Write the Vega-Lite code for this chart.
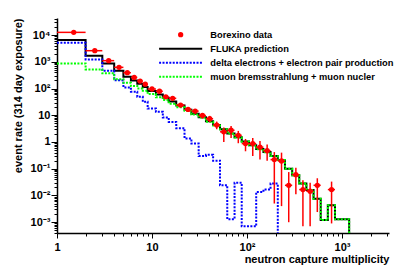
{
  "$schema": "https://vega.github.io/schema/vega-lite/v6.json",
  "width": 332,
  "height": 215,
  "autosize": {"type": "none"},
  "padding": {"left": 57, "top": 18, "right": 28, "bottom": 33},
  "background": "white",
  "config": {"view": {"stroke": null}, "font": "Liberation Sans"},
  "datasets": {
    "hist": [
      {"s": "FLUKA prediction", "x": 1, "y": 6500}, {"s": "FLUKA prediction", "x": 2, "y": 1680}, {"s": "FLUKA prediction", "x": 3, "y": 870}, {"s": "FLUKA prediction", "x": 4, "y": 460}, {"s": "FLUKA prediction", "x": 5, "y": 275}, {"s": "FLUKA prediction", "x": 6, "y": 200}, {"s": "FLUKA prediction", "x": 7, "y": 150}, {"s": "FLUKA prediction", "x": 8, "y": 115}, {"s": "FLUKA prediction", "x": 9, "y": 80}, {"s": "FLUKA prediction", "x": 11, "y": 60}, {"s": "FLUKA prediction", "x": 13, "y": 45}, {"s": "FLUKA prediction", "x": 15, "y": 33}, {"s": "FLUKA prediction", "x": 18, "y": 23}, {"s": "FLUKA prediction", "x": 22, "y": 16}, {"s": "FLUKA prediction", "x": 26, "y": 11.5}, {"s": "FLUKA prediction", "x": 31, "y": 8.5}, {"s": "FLUKA prediction", "x": 37, "y": 6}, {"s": "FLUKA prediction", "x": 44, "y": 4.3}, {"s": "FLUKA prediction", "x": 52, "y": 3.0}, {"s": "FLUKA prediction", "x": 62, "y": 2.1}, {"s": "FLUKA prediction", "x": 74, "y": 1.5}, {"s": "FLUKA prediction", "x": 88, "y": 1.05}, {"s": "FLUKA prediction", "x": 105, "y": 0.76}, {"s": "FLUKA prediction", "x": 125, "y": 0.55}, {"s": "FLUKA prediction", "x": 149, "y": 0.42}, {"s": "FLUKA prediction", "x": 177, "y": 0.30}, {"s": "FLUKA prediction", "x": 211, "y": 0.21}, {"s": "FLUKA prediction", "x": 251, "y": 0.10}, {"s": "FLUKA prediction", "x": 299, "y": 0.057}, {"s": "FLUKA prediction", "x": 355, "y": 0.028}, {"s": "FLUKA prediction", "x": 422, "y": 0.016}, {"s": "FLUKA prediction", "x": 502, "y": 0.0076}, {"s": "FLUKA prediction", "x": 597, "y": 0.0012}, {"s": "FLUKA prediction", "x": 710, "y": 0.0043}, {"s": "FLUKA prediction", "x": 844, "y": 0.0013}, {"s": "FLUKA prediction", "x": 1003, "y": 0.0013}, {"s": "FLUKA prediction", "x": 1190, "y": 0.0001},
      {"s": "delta electrons + electron pair production", "x": 1, "y": 5200}, {"s": "delta electrons + electron pair production", "x": 2, "y": 1230}, {"s": "delta electrons + electron pair production", "x": 3, "y": 460}, {"s": "delta electrons + electron pair production", "x": 4, "y": 205}, {"s": "delta electrons + electron pair production", "x": 5, "y": 110}, {"s": "delta electrons + electron pair production", "x": 6, "y": 76}, {"s": "delta electrons + electron pair production", "x": 7, "y": 49}, {"s": "delta electrons + electron pair production", "x": 8, "y": 32}, {"s": "delta electrons + electron pair production", "x": 9, "y": 18}, {"s": "delta electrons + electron pair production", "x": 11, "y": 13.4}, {"s": "delta electrons + electron pair production", "x": 13, "y": 8.3}, {"s": "delta electrons + electron pair production", "x": 15, "y": 5.6}, {"s": "delta electrons + electron pair production", "x": 18, "y": 3.3}, {"s": "delta electrons + electron pair production", "x": 22, "y": 1.35}, {"s": "delta electrons + electron pair production", "x": 26, "y": 0.87}, {"s": "delta electrons + electron pair production", "x": 31, "y": 0.3}, {"s": "delta electrons + electron pair production", "x": 37, "y": 0.33}, {"s": "delta electrons + electron pair production", "x": 44, "y": 0.2}, {"s": "delta electrons + electron pair production", "x": 52, "y": 0.024}, {"s": "delta electrons + electron pair production", "x": 62, "y": 0.0013}, {"s": "delta electrons + electron pair production", "x": 74, "y": 0.03}, {"s": "delta electrons + electron pair production", "x": 88, "y": 0.0007}, {"s": "delta electrons + electron pair production", "x": 105, "y": 0.0007}, {"s": "delta electrons + electron pair production", "x": 125, "y": 0.0135}, {"s": "delta electrons + electron pair production", "x": 149, "y": 0.0166}, {"s": "delta electrons + electron pair production", "x": 177, "y": 0.028}, {"s": "delta electrons + electron pair production", "x": 211, "y": 0.0001},
      {"s": "muon bremsstrahlung + muon nucler", "x": 1, "y": 870}, {"s": "muon bremsstrahlung + muon nucler", "x": 2, "y": 520}, {"s": "muon bremsstrahlung + muon nucler", "x": 3, "y": 370}, {"s": "muon bremsstrahlung + muon nucler", "x": 4, "y": 220}, {"s": "muon bremsstrahlung + muon nucler", "x": 5, "y": 163}, {"s": "muon bremsstrahlung + muon nucler", "x": 6, "y": 124}, {"s": "muon bremsstrahlung + muon nucler", "x": 7, "y": 101}, {"s": "muon bremsstrahlung + muon nucler", "x": 8, "y": 83}, {"s": "muon bremsstrahlung + muon nucler", "x": 9, "y": 62}, {"s": "muon bremsstrahlung + muon nucler", "x": 11, "y": 47}, {"s": "muon bremsstrahlung + muon nucler", "x": 13, "y": 37}, {"s": "muon bremsstrahlung + muon nucler", "x": 15, "y": 27}, {"s": "muon bremsstrahlung + muon nucler", "x": 18, "y": 20}, {"s": "muon bremsstrahlung + muon nucler", "x": 22, "y": 14.6}, {"s": "muon bremsstrahlung + muon nucler", "x": 26, "y": 10.6}, {"s": "muon bremsstrahlung + muon nucler", "x": 31, "y": 8.2}, {"s": "muon bremsstrahlung + muon nucler", "x": 37, "y": 5.7}, {"s": "muon bremsstrahlung + muon nucler", "x": 44, "y": 4.1}, {"s": "muon bremsstrahlung + muon nucler", "x": 52, "y": 3.0}, {"s": "muon bremsstrahlung + muon nucler", "x": 62, "y": 2.1}, {"s": "muon bremsstrahlung + muon nucler", "x": 74, "y": 1.47}, {"s": "muon bremsstrahlung + muon nucler", "x": 88, "y": 1.05}, {"s": "muon bremsstrahlung + muon nucler", "x": 105, "y": 0.76}, {"s": "muon bremsstrahlung + muon nucler", "x": 125, "y": 0.54}, {"s": "muon bremsstrahlung + muon nucler", "x": 149, "y": 0.41}, {"s": "muon bremsstrahlung + muon nucler", "x": 177, "y": 0.30}, {"s": "muon bremsstrahlung + muon nucler", "x": 211, "y": 0.21}, {"s": "muon bremsstrahlung + muon nucler", "x": 251, "y": 0.10}, {"s": "muon bremsstrahlung + muon nucler", "x": 299, "y": 0.057}, {"s": "muon bremsstrahlung + muon nucler", "x": 355, "y": 0.028}, {"s": "muon bremsstrahlung + muon nucler", "x": 422, "y": 0.016}, {"s": "muon bremsstrahlung + muon nucler", "x": 502, "y": 0.0076}, {"s": "muon bremsstrahlung + muon nucler", "x": 597, "y": 0.0012}, {"s": "muon bremsstrahlung + muon nucler", "x": 710, "y": 0.0043}, {"s": "muon bremsstrahlung + muon nucler", "x": 844, "y": 0.0013}, {"s": "muon bremsstrahlung + muon nucler", "x": 1003, "y": 0.0013}, {"s": "muon bremsstrahlung + muon nucler", "x": 1190, "y": 0.0001}
    ],
    "pts": [
      {"s": "Borexino data", "x": 1.5, "y": 12600, "lo": 12300, "hi": 12900, "xlo": 1, "xhi": 2},
      {"s": "Borexino data", "x": 2.5, "y": 2600, "lo": 2520, "hi": 2680, "xlo": 2, "xhi": 3},
      {"s": "Borexino data", "x": 3.5, "y": 1100, "lo": 1060, "hi": 1140, "xlo": 3, "xhi": 4},
      {"s": "Borexino data", "x": 4.5, "y": 620, "lo": 595, "hi": 645, "xlo": 4, "xhi": 5},
      {"s": "Borexino data", "x": 5.5, "y": 390, "lo": 372, "hi": 408, "xlo": 5, "xhi": 6},
      {"s": "Borexino data", "x": 6.5, "y": 260, "lo": 246, "hi": 274, "xlo": 6, "xhi": 7},
      {"s": "Borexino data", "x": 7.5, "y": 190, "lo": 178, "hi": 202, "xlo": 7, "xhi": 8},
      {"s": "Borexino data", "x": 8.5, "y": 146, "lo": 136, "hi": 156, "xlo": 8, "xhi": 9},
      {"s": "Borexino data", "x": 10, "y": 96, "lo": 89, "hi": 103, "xlo": 9, "xhi": 11},
      {"s": "Borexino data", "x": 12, "y": 79, "lo": 72, "hi": 86, "xlo": 11, "xhi": 13},
      {"s": "Borexino data", "x": 14, "y": 49, "lo": 43, "hi": 55, "xlo": 13, "xhi": 15},
      {"s": "Borexino data", "x": 16.5, "y": 43, "lo": 37, "hi": 49, "xlo": 15, "xhi": 18},
      {"s": "Borexino data", "x": 20, "y": 24, "lo": 20, "hi": 28, "xlo": 18, "xhi": 22},
      {"s": "Borexino data", "x": 24, "y": 16.6, "lo": 13.5, "hi": 19.7, "xlo": 22, "xhi": 26},
      {"s": "Borexino data", "x": 28.5, "y": 14.3, "lo": 11.5, "hi": 17, "xlo": 26, "xhi": 31},
      {"s": "Borexino data", "x": 34, "y": 9.8, "lo": 7.5, "hi": 12, "xlo": 31, "xhi": 37},
      {"s": "Borexino data", "x": 40.5, "y": 7.4, "lo": 5.5, "hi": 9.5, "xlo": 37, "xhi": 44},
      {"s": "Borexino data", "x": 48, "y": 4.3, "lo": 3, "hi": 5.8, "xlo": 44, "xhi": 52},
      {"s": "Borexino data", "x": 57, "y": 2.4, "lo": 1.0, "hi": 3.5, "xlo": 52, "xhi": 62},
      {"s": "Borexino data", "x": 68, "y": 2.75, "lo": 1.4, "hi": 4.0, "xlo": 62, "xhi": 74},
      {"s": "Borexino data", "x": 81, "y": 1.78, "lo": 0.9, "hi": 2.6, "xlo": 74, "xhi": 88},
      {"s": "Borexino data", "x": 96.5, "y": 0.87, "lo": 0.45, "hi": 1.3, "xlo": 88, "xhi": 105},
      {"s": "Borexino data", "x": 115, "y": 0.87, "lo": 0.3, "hi": 1.4, "xlo": 105, "xhi": 125},
      {"s": "Borexino data", "x": 137, "y": 0.64, "lo": 0.22, "hi": 1.1, "xlo": 125, "xhi": 149},
      {"s": "Borexino data", "x": 163, "y": 0.47, "lo": 0.2, "hi": 0.8, "xlo": 149, "xhi": 177},
      {"s": "Borexino data", "x": 194, "y": 0.22, "lo": 0.005, "hi": 0.42, "xlo": 177, "xhi": 211},
      {"s": "Borexino data", "x": 231, "y": 0.195, "lo": 0.004, "hi": 0.4, "xlo": 211, "xhi": 251},
      {"s": "Borexino data", "x": 275, "y": 0.024, "lo": 0.001, "hi": 0.075, "xlo": 251, "xhi": 299},
      {"s": "Borexino data", "x": 327, "y": 0.06, "lo": 0.011, "hi": 0.11, "xlo": 299, "xhi": 355},
      {"s": "Borexino data", "x": 388, "y": 0.0166, "lo": 0.0007, "hi": 0.037, "xlo": 355, "xhi": 422},
      {"s": "Borexino data", "x": 462, "y": 0.0144, "lo": 0.0007, "hi": 0.03, "xlo": 422, "xhi": 502},
      {"s": "Borexino data", "x": 550, "y": 0.024, "lo": 0.0024, "hi": 0.044, "xlo": 502, "xhi": 597},
      {"s": "Borexino data", "x": 777, "y": 0.0166, "lo": 0.0009, "hi": 0.033, "xlo": 710, "xhi": 844}
    ]
  },
  "encoding": {
    "x": {
      "field": "x", "type": "quantitative",
      "scale": {"type": "log", "domain": [1, 3126], "nice": false, "zero": false},
      "axis": {
        "values": [1, 2, 3, 4, 5, 6, 7, 8, 9, 10, 20, 30, 40, 50, 60, 70, 80, 90, 100, 200, 300, 400, 500, 600, 700, 800, 900, 1000, 2000, 3000],
        "labelExpr": "datum.value == 1 ? '1' : datum.value == 10 ? '10' : datum.value == 100 ? '10²' : datum.value == 1000 ? '10³' : ''",
        "tickSize": {"condition": {"test": "indexof([1, 10, 100, 1000], datum.value) >= 0", "value": 5}, "value": 3},
        "grid": false, "domainColor": "black", "domainWidth": 1.5, "tickColor": "black", "tickWidth": 1,
        "labelFont": "Liberation Sans", "labelFontWeight": "bold", "labelFontSize": 11, "labelColor": "black",
        "labelPadding": 3, "labelFlush": false, "labelOverlap": false, "labelBound": false,
        "title": "neutron capture multiplicity", "titleFont": "Liberation Sans", "titleFontSize": 11, "titleFontWeight": "bold", "titleColor": "black",
        "titleX": 332, "titleY": 29, "titleAlign": "right", "titleBaseline": "alphabetic", "titleAnchor": "end"
      }
    },
    "y": {
      "field": "y", "type": "quantitative",
      "scale": {"type": "log", "domain": [0.000395, 43400], "nice": false, "zero": false},
      "axis": {
        "values": [0.0004, 0.0005, 0.0006, 0.0007, 0.0008, 0.0009, 0.001, 0.002, 0.003, 0.004, 0.005, 0.006, 0.007, 0.008, 0.009, 0.01, 0.02, 0.03, 0.04, 0.05, 0.06, 0.07, 0.08, 0.09, 0.1, 0.2, 0.3, 0.4, 0.5, 0.6, 0.7, 0.8, 0.9, 1, 2, 3, 4, 5, 6, 7, 8, 9, 10, 20, 30, 40, 50, 60, 70, 80, 90, 100, 200, 300, 400, 500, 600, 700, 800, 900, 1000, 2000, 3000, 4000, 5000, 6000, 7000, 8000, 9000, 10000, 20000, 30000, 40000],
        "labelExpr": "datum.value == 10000 ? '10⁴' : datum.value == 1000 ? '10³' : datum.value == 100 ? '10²' : datum.value == 10 ? '10' : datum.value == 1 ? '1' : datum.value == 0.1 ? '10⁻¹' : datum.value == 0.01 ? '10⁻²' : datum.value == 0.001 ? '10⁻³' : ''",
        "tickSize": {"condition": {"test": "indexof([0.001, 0.01, 0.1, 1, 10, 100, 1000, 10000], datum.value) >= 0", "value": 6}, "value": 3},
        "grid": false, "domainColor": "black", "domainWidth": 1.5, "tickColor": "black", "tickWidth": 1,
        "labelFont": "Liberation Sans", "labelFontWeight": "bold", "labelFontSize": 11, "labelColor": "black",
        "labelPadding": 1, "labelFlush": false, "labelOverlap": false, "labelBound": false,
        "title": "event rate (314 day exposure)", "titleFont": "Liberation Sans", "titleFontSize": 11, "titleFontWeight": "bold", "titleColor": "black",
        "titleX": -34, "titleY": 0, "titleAlign": "right", "titleBaseline": "bottom", "titleAngle": -90, "titleAnchor": "end"
      }
    },
    "color": {
      "field": "s", "type": "nominal",
      "scale": {
        "domain": ["Borexino data", "FLUKA prediction", "delta electrons + electron pair production", "muon bremsstrahlung + muon nucler"],
        "range": ["#ff0000", "#000000", "#0000ff", "#00ff00"]
      },
      "legend": {
        "orient": "none", "legendX": 119, "legendY": 12, "title": null, "padding": 0, "rowPadding": 4,
        "symbolSize": 116, "symbolStrokeWidth": 2, "labelOffset": 25,
        "labelFont": "Liberation Sans", "labelFontSize": 9.3, "labelFontWeight": "bold", "labelColor": "black", "labelLimit": 400,
        "encode": {
          "symbols": {
            "update": {
              "shape": {"signal": "datum.value == 'Borexino data' ? 'circle' : 'M-4,0H4'"},
              "size": {"signal": "datum.value == 'Borexino data' ? 28 : 116"},
              "fill": {"signal": "datum.value == 'Borexino data' ? '#ff0000' : 'transparent'"},
              "stroke": {"signal": "datum.value == 'Borexino data' ? '#ff0000' : datum.value == 'FLUKA prediction' ? '#000000' : datum.value == 'muon bremsstrahlung + muon nucler' ? '#00ff00' : '#0000ff'"},
              "strokeWidth": {"signal": "datum.value == 'Borexino data' ? 0 : 2"},
              "strokeDash": {"signal": "datum.value == 'FLUKA prediction' || datum.value == 'Borexino data' ? [1, 0] : [2, 1.4]"},
              "opacity": {"value": 1}
            }
          }
        }
      }
    }
  },
  "layer": [
    {
      "data": {"name": "hist"},
      "transform": [{"filter": "datum.s == 'FLUKA prediction'"}],
      "mark": {"type": "line", "interpolate": "step-after", "clip": true, "strokeWidth": 2}
    },
    {
      "data": {"name": "hist"},
      "transform": [{"filter": "datum.s == 'delta electrons + electron pair production'"}],
      "mark": {"type": "line", "interpolate": "step-after", "clip": true, "strokeWidth": 2, "strokeDash": [2, 1.4]}
    },
    {
      "data": {"name": "hist"},
      "transform": [{"filter": "datum.s == 'muon bremsstrahlung + muon nucler'"}],
      "mark": {"type": "line", "interpolate": "step-after", "clip": true, "strokeWidth": 2, "strokeDash": [2, 1.4]}
    },
    {
      "data": {"name": "pts"},
      "mark": {"type": "rule", "strokeWidth": 1.5, "clip": true},
      "encoding": {"y": {"field": "lo", "type": "quantitative"}, "y2": {"field": "hi"}}
    },
    {
      "data": {"name": "pts"},
      "mark": {"type": "rule", "strokeWidth": 1.5, "clip": true},
      "encoding": {"x": {"field": "xlo", "type": "quantitative"}, "x2": {"field": "xhi"}}
    },
    {
      "data": {"name": "pts"},
      "mark": {"type": "point", "filled": true, "size": 28, "opacity": 1}
    }
  ]
}
